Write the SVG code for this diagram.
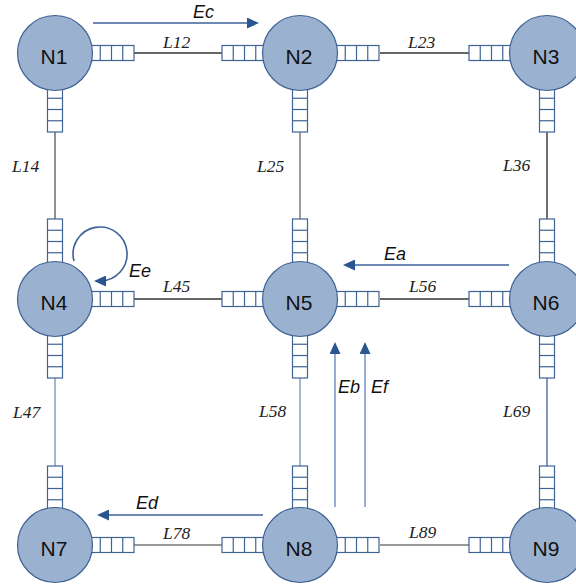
<svg xmlns="http://www.w3.org/2000/svg" xmlns:xlink="http://www.w3.org/1999/xlink" width="576" height="586" viewBox="0 0 576 586">
  <style>
    .node { fill: #9bb1d0; stroke: #3d6194; stroke-width: 1.2; }
    .nlabel { font-family: "Liberation Sans", Arial, sans-serif; font-size: 21px; fill: #111; text-anchor: middle; }
    .llabel { font-family: "Liberation Serif", "Times New Roman", serif; font-style: italic; font-size: 17.5px; fill: #222; }
    .elabel { font-family: "Liberation Sans", Arial, sans-serif; font-style: italic; font-size: 18px; fill: #111; }
    .buf rect { fill: #fff; stroke: #3f6395; stroke-width: 1.2; }
    .buf line { stroke: #3f6395; stroke-width: 1.2; }
    .link { fill: none; stroke-width: 1.3; }
    .flow { fill: none; stroke: #3c6298; stroke-width: 1.6; marker-end: url(#head); }
    .flow.light { stroke: #7b9cc8; }
  </style>
  <defs>
    <marker id="head" viewBox="0 0 12 11" refX="6" refY="5.5" markerUnits="userSpaceOnUse" markerWidth="12" markerHeight="11" orient="auto">
      <path d="M0 0 L12 5.5 L0 11 Z" fill="#2b5590"/>
    </marker>
    <!-- four-cell queue, horizontal and vertical -->
    <g id="bufH" class="buf">
      <rect x="0" y="-7.5" width="45" height="15"/>
      <line x1="11.25" y1="-7.5" x2="11.25" y2="7.5"/>
      <line x1="22.5" y1="-7.5" x2="22.5" y2="7.5"/>
      <line x1="33.75" y1="-7.5" x2="33.75" y2="7.5"/>
    </g>
    <g id="bufV" class="buf">
      <rect x="-7.5" y="0" width="15" height="45"/>
      <line x1="-7.5" y1="11.25" x2="7.5" y2="11.25"/>
      <line x1="-7.5" y1="22.5" x2="7.5" y2="22.5"/>
      <line x1="-7.5" y1="33.75" x2="7.5" y2="33.75"/>
    </g>
  </defs>

  <!-- links between queues -->
  <g id="links">
    <line class="link" x1="134" y1="53" x2="222" y2="53" stroke="#333"/>
    <line class="link" x1="380" y1="53" x2="469" y2="53" stroke="#333"/>
    <line class="link" x1="55" y1="132" x2="55" y2="220" stroke="#555"/>
    <line class="link" x1="300" y1="132" x2="300" y2="220" stroke="#666"/>
    <line class="link" x1="547" y1="132" x2="547" y2="220" stroke="#222"/>
    <line class="link" x1="134" y1="299" x2="222" y2="299" stroke="#333"/>
    <line class="link" x1="380" y1="299" x2="469" y2="299" stroke="#333"/>
    <line class="link" x1="55" y1="378" x2="55" y2="466" stroke="#7090bb"/>
    <line class="link" x1="300" y1="378" x2="300" y2="466" stroke="#7391bd"/>
    <line class="link" x1="547" y1="378" x2="547" y2="466" stroke="#3a64a0"/>
    <line class="link" x1="134" y1="545" x2="222" y2="545" stroke="#777"/>
    <line class="link" x1="380" y1="545" x2="469" y2="545" stroke="#777"/>
  </g>

  <!-- link labels -->
  <g id="link-labels">
    <text class="llabel" x="163" y="48">L12</text>
    <text class="llabel" x="408" y="48">L23</text>
    <text class="llabel" x="12" y="172">L14</text>
    <text class="llabel" x="257" y="172">L25</text>
    <text class="llabel" x="503" y="171">L36</text>
    <text class="llabel" x="163" y="292">L45</text>
    <text class="llabel" x="409" y="292">L56</text>
    <text class="llabel" x="13" y="418">L47</text>
    <text class="llabel" x="259" y="417">L58</text>
    <text class="llabel" x="503" y="417">L69</text>
    <text class="llabel" x="163" y="539">L78</text>
    <text class="llabel" x="409" y="538">L89</text>
  </g>

  <!-- nodes with their queues -->
  <g id="N1">
    <use xlink:href="#bufH" x="89" y="53"/>
    <use xlink:href="#bufV" x="55" y="87"/>
    <circle class="node" cx="55" cy="53" r="37.5"/>
    <text class="nlabel" x="54" y="64">N1</text>
  </g>
  <g id="N2">
    <use xlink:href="#bufH" x="222" y="53"/>
    <use xlink:href="#bufH" x="334" y="53"/>
    <use xlink:href="#bufV" x="300" y="87"/>
    <circle class="node" cx="300" cy="53" r="37.5"/>
    <text class="nlabel" x="299" y="64">N2</text>
  </g>
  <g id="N3">
    <use xlink:href="#bufH" x="469" y="53"/>
    <use xlink:href="#bufV" x="547" y="87"/>
    <circle class="node" cx="547" cy="53" r="37.5"/>
    <text class="nlabel" x="546" y="64">N3</text>
  </g>
  <g id="N4">
    <use xlink:href="#bufV" x="55" y="219"/>
    <use xlink:href="#bufH" x="89" y="299"/>
    <use xlink:href="#bufV" x="55" y="333"/>
    <circle class="node" cx="55" cy="299" r="37.5"/>
    <text class="nlabel" x="54" y="310">N4</text>
  </g>
  <g id="N5">
    <use xlink:href="#bufV" x="300" y="219"/>
    <use xlink:href="#bufH" x="222" y="299"/>
    <use xlink:href="#bufH" x="334" y="299"/>
    <use xlink:href="#bufV" x="300" y="333"/>
    <circle class="node" cx="300" cy="299" r="37.5"/>
    <text class="nlabel" x="299" y="310">N5</text>
  </g>
  <g id="N6">
    <use xlink:href="#bufV" x="547" y="219"/>
    <use xlink:href="#bufH" x="469" y="299"/>
    <use xlink:href="#bufV" x="547" y="333"/>
    <circle class="node" cx="547" cy="299" r="37.5"/>
    <text class="nlabel" x="546" y="310">N6</text>
  </g>
  <g id="N7">
    <use xlink:href="#bufV" x="55" y="466"/>
    <use xlink:href="#bufH" x="89" y="545"/>
    <circle class="node" cx="55" cy="545" r="37.5"/>
    <text class="nlabel" x="54" y="556">N7</text>
  </g>
  <g id="N8">
    <use xlink:href="#bufV" x="300" y="466"/>
    <use xlink:href="#bufH" x="222" y="545"/>
    <use xlink:href="#bufH" x="334" y="545"/>
    <circle class="node" cx="300" cy="545" r="37.5"/>
    <text class="nlabel" x="299" y="556">N8</text>
  </g>
  <g id="N9">
    <use xlink:href="#bufV" x="547" y="466"/>
    <use xlink:href="#bufH" x="469" y="545"/>
    <circle class="node" cx="547" cy="545" r="37.5"/>
    <text class="nlabel" x="546" y="556">N9</text>
  </g>

  <!-- traffic flows -->
  <g id="flows">
    <path class="flow" d="M93 23 H253"/>
    <path class="flow" d="M509 265 H349"/>
    <path class="flow" d="M263 515 H103"/>
    <path class="flow light" d="M335 507 V348"/>
    <path class="flow light" d="M365 507 V348"/>
    <path class="flow" stroke-width="1.3" d="M74 261 A27 27 0 1 1 100 281"/>
  </g>

  <g id="flow-labels">
    <text class="elabel" x="193" y="18">Ec</text>
    <text class="elabel" x="384" y="260">Ea</text>
    <text class="elabel" x="129" y="277">Ee</text>
    <text class="elabel" x="338" y="393">Eb</text>
    <text class="elabel" x="371" y="393">Ef</text>
    <text class="elabel" x="136" y="509">Ed</text>
  </g>
</svg>
